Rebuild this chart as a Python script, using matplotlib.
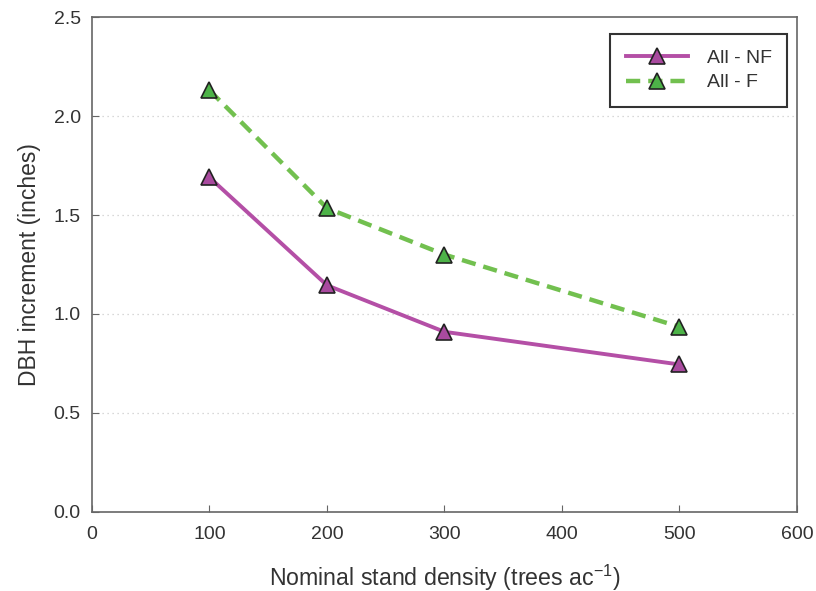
import matplotlib
matplotlib.use("Agg")
import matplotlib.pyplot as plt

density = [100, 200, 300, 500]
nf_values = [1.69, 1.145, 0.91, 0.745]
f_values = [2.13, 1.535, 1.30, 0.935]
x_ticks = [0, 100, 200, 300, 400, 500, 600]
y_ticks = [0.0, 0.5, 1.0, 1.5, 2.0, 2.5]

plt.rcParams['font.family'] = ['Liberation Sans', 'DejaVu Sans']

fig = plt.figure(figsize=(8.16, 5.91), dpi=100)
ax = fig.add_axes([0.1127, 0.1337, 0.8640, 0.8375])

for yv in y_ticks[1:-1]:
    ax.axhline(yv, color='#cccccc', linestyle=(0, (1, 3)), linewidth=0.9, zorder=0)

ax.plot(density, nf_values, color='#B44FA6', linewidth=2.8, marker='^', markersize=11,
        markerfacecolor='#A94A9F', markeredgecolor='#222222', markeredgewidth=1.2,
        label='All - NF', zorder=3)
ax.plot(density, f_values, color='#72C04F', linewidth=3.2, linestyle=(0, (3.2, 1.8)), marker='^',
        markersize=11, markerfacecolor='#4DB348', markeredgecolor='#222222', markeredgewidth=1.2,
        label='All - F', zorder=3)

ax.set_xlim(0, 600)
ax.set_ylim(0, 2.5)
ax.set_xticks(x_ticks)
ax.set_yticks(y_ticks)
ax.set_yticklabels([f"{v:.1f}" for v in y_ticks])
ax.tick_params(direction='in', length=5, color='#666666', labelsize=14, labelcolor='#333333')
ax.tick_params(axis='x', pad=10)
ax.tick_params(axis='y', pad=8)
for s in ax.spines.values():
    s.set_color('#666666')
    s.set_linewidth(1.2)

ax.set_xlabel('Nominal stand density (trees ac$^{\\mathregular{-1}}$)', fontsize=16.7, color='#333333', labelpad=14)
ax.set_ylabel('DBH increment (inches)', fontsize=16.5, color='#333333', labelpad=9)

leg = ax.legend(loc='upper right', bbox_to_anchor=(0.986, 0.966), fontsize=14, frameon=True,
                fancybox=False, edgecolor='black', handlelength=3.2, borderpad=0.8,
                labelspacing=0.35, handletextpad=0.95, borderaxespad=0)
leg.get_frame().set_linewidth(1.5)
for t in leg.get_texts():
    t.set_color('#333333')

fig.savefig('out.png', dpi=100)
